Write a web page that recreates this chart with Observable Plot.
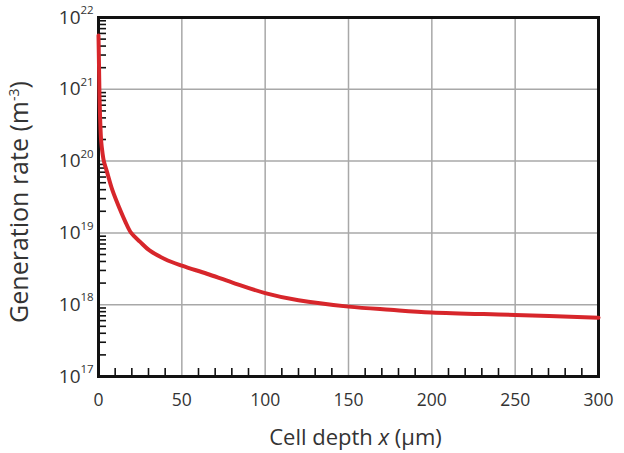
<!DOCTYPE html>
<html><head><meta charset="utf-8">
<script src="https://cdn.jsdelivr.net/npm/d3@7"></script>
<script src="https://cdn.jsdelivr.net/npm/@observablehq/plot@0.6"></script>
<style>html,body{margin:0;padding:0;background:#fff}svg{display:block}</style>
</head><body><div id="chart"></div>
<script>
// Curve: generation rate (m^-3) vs cell depth x (µm)
const depth = [0, 0.3, 0.6, 1.0, 1.6, 2.4, 3.2, 5, 8.4, 12.6, 16, 19.6, 25, 30.6, 40, 50, 65, 80, 100, 120, 150, 175, 200, 250, 300];
const rate  = [5.6e21, 2.2e21, 8e20, 3.8e20, 1.9e20, 1.3e20, 1.0e20, 7.2e19, 3.9e19, 2.2e19, 1.45e19, 1.0e19, 7.5e18, 5.7e18, 4.3e18, 3.5e18, 2.7e18, 2.05e18, 1.45e18, 1.15e18, 9.4e17, 8.5e17, 7.8e17, 7.2e17, 6.6e17];

// Axis ticks
const xTicks = [0, 50, 100, 150, 200, 250, 300];
const xGrid = [50, 100, 150, 200, 250];
const xMinor = [10, 20, 30, 40, 60, 70, 80, 90, 110, 120, 130, 140, 160, 170, 180, 190, 210, 220, 230, 240, 260, 270, 280, 290];
const yExponents = [17, 18, 19, 20, 21, 22];
const yGridExponents = [18, 19, 20, 21];
const yMantissas = [2, 3, 4, 5, 6, 7, 8, 9];

const xTitle = "Cell depth x (μm)";
const yTitle = "Generation rate (m-3)";

const data = depth.map((d, i) => ({x: d, y: rate[i]}));
const yMinor = yExponents.slice(0, -1).flatMap(e => yMantissas.map(m => m * 10 ** e));

const plot = Plot.plot({
  width: 624, height: 453,
  marginLeft: 98, marginRight: 26, marginTop: 17, marginBottom: 77,
  style: {fontFamily: "'Open Sans', sans-serif", color: "#333", background: "white", overflow: "visible"},
  x: {domain: [0, 300]},
  y: {type: "log", domain: [1e17, 1e22]},
  marks: [
    Plot.ruleX(xGrid, {x: d => d, stroke: "#a8a8a8", strokeWidth: 1.5}),
    Plot.ruleY(yGridExponents, {y: d => 10 ** d, stroke: "#a8a8a8", strokeWidth: 1.5}),
    Plot.axisX({ticks: xMinor, tickSize: 8, dy: -8, tickFormat: () => "", label: null, stroke: "#111", strokeWidth: 1.6}),
    Plot.axisY({ticks: yMinor, tickSize: 8, dx: 8, tickFormat: () => "", label: null, stroke: "#111", strokeWidth: 1.6}),
    Plot.axisX({ticks: xTicks, tickSize: 0, tickPadding: 17, fontSize: 17.5, label: null}),
    Plot.frame({stroke: "#111", strokeWidth: 3}),
    Plot.line(data, {x: "x", y: "y", stroke: "#d7262b", strokeWidth: 4, curve: "catmull-rom"}),
    Plot.text(yExponents, {x: 0, y: d => 10 ** d, text: () => "10", textAnchor: "end", dx: -18, fontSize: 19, fill: "#333"}),
    Plot.text(yExponents, {x: 0, y: d => 10 ** d, text: d => String(d), textAnchor: "start", dx: -18, dy: -7, fontSize: 11.5, fill: "#333"}),
    Plot.text([xTitle], {frameAnchor: "bottom", text: d => d, textAnchor: "middle", lineAnchor: "middle", dy: 61, dx: 7, fontSize: 22, fill: "#333"}),
    Plot.text([yTitle], {frameAnchor: "left", text: d => d, textAnchor: "middle", lineAnchor: "middle", dx: -79, dy: 5, rotate: -90, fontSize: 25, fill: "#333"})
  ]
});
document.getElementById("chart").appendChild(plot);

// rich text: italic x, superscript -3
const NS = "http://www.w3.org/2000/svg";
function ts(txt, attrs) {
  const t = document.createElementNS(NS, "tspan");
  t.textContent = txt;
  for (const k in attrs) t.setAttribute(k, attrs[k]);
  return t;
}
plot.querySelectorAll("text").forEach(t => {
  if (t.textContent === xTitle) {
    t.textContent = "";
    t.append(ts("Cell depth "), ts("x", {"font-style": "italic"}), ts(" (μm)"));
  } else if (t.textContent === yTitle) {
    t.textContent = "";
    t.append(ts("Generation rate (m"), ts("-3", {"font-size": 14, dy: -9}), ts(")", {dy: 9}));
  }
});
</script>
</body></html>
